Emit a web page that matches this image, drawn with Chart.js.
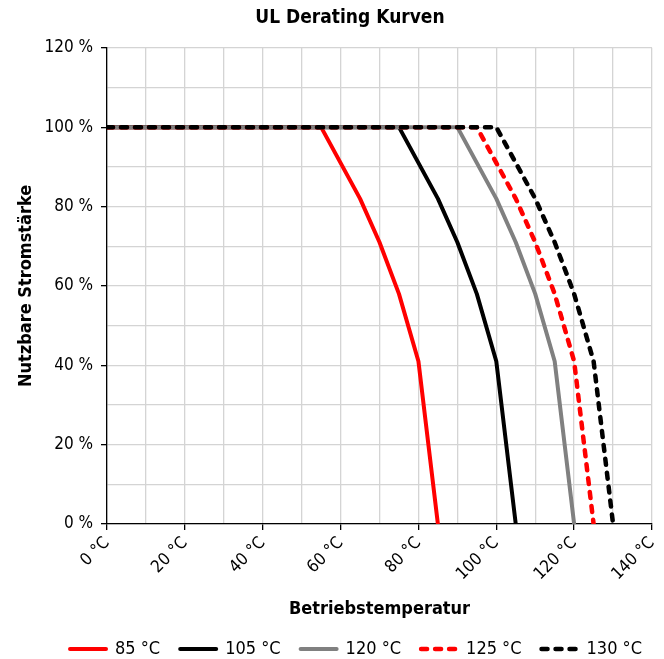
<!DOCTYPE html>
<html>
<head>
<meta charset="utf-8">
<script src="https://cdn.jsdelivr.net/npm/chart.js@4.4.1/dist/chart.umd.min.js"></script>
<style>
  html, body { margin: 0; padding: 0; background: #fff; }
  #wrap { width: 664px; height: 659px; }
</style>
</head>
<body>
<div id="wrap"><canvas id="derating"></canvas></div>
<script>
// Derating data: usable current (%) over operating temperature (°C)
const current = [100, 100, 91, 82, 71, 58, 41, 0];
const temps85 = [0, 55, 60, 65, 70, 75, 80, 85];
const temps105 = [0, 75, 80, 85, 90, 95, 100, 105];
const temps120 = [0, 90, 95, 100, 105, 110, 115, 120];
const temps125 = [0, 95, 100, 105, 110, 115, 120, 125];
const temps130 = [0, 100, 105, 110, 115, 120, 125, 130];
const seriesNames = ['85 °C', '105 °C', '120 °C', '125 °C', '130 °C'];
const xTicks = [0, 20, 40, 60, 80, 100, 120, 140];
const yTicks = [0, 20, 40, 60, 80, 100, 120];

const FONT = '"DejaVu Sans Condensed", "Liberation Sans Narrow", "Liberation Sans", sans-serif';

function pts(xs) {
    return xs.map((x, i) => ({ x: x, y: current[i] }));
}

function line(label, xs, color, dashed) {
    return {
        label: label,
        data: pts(xs),
        borderColor: color,
        backgroundColor: color,
        borderWidth: dashed ? 4.5 : 4,
        borderDash: dashed ? [6, 8] : [],
        borderCapStyle: 'round',
        borderJoinStyle: 'round',
        pointRadius: 0,
        tension: 0,
        fill: false
    };
}

// listed back to front so the 130 °C curve ends up on top
const datasets = [
    line(seriesNames[4], temps130, '#000000', true),
    line(seriesNames[3], temps125, '#ff0000', true),
    line(seriesNames[2], temps120, '#808080', false),
    line(seriesNames[1], temps105, '#000000', false),
    line(seriesNames[0], temps85, '#ff0000', false)
];

const minorTick = (ctx) => (ctx.tick && ctx.tick.value % 20 === 0) ? '#000000' : 'rgba(0,0,0,0)';

// title and legend in the original sit a bit right of centre
const boxShift = {
    id: 'boxShift',
    afterLayout: (chart) => {
        chart.legend.left += 22;
        chart.legend.right += 22;
        chart.titleBlock.left += 16;
        chart.titleBlock.right += 16;
    }
};

new Chart(document.getElementById('derating').getContext('2d'), {
    type: 'line',
    data: { datasets: datasets },
    plugins: [boxShift],
    options: {
        responsive: true,
        maintainAspectRatio: false,
        animation: false,
        layout: { padding: { left: 16, right: 12, top: 5, bottom: -9 } },
        plugins: {
            title: {
                display: true,
                text: 'UL Derating Kurven',
                color: '#000',
                font: { family: FONT, size: 19, weight: 'bold' },
                padding: { top: 2, bottom: 18 }
            },
            legend: {
                position: 'bottom',
                reverse: true,
                labels: {
                    color: '#000',
                    font: { family: FONT, size: 18 },
                    usePointStyle: true,
                    pointStyle: 'line',
                    pointStyleWidth: 36,
                    boxHeight: 18,
                    padding: 20,
                    // point-style legend items lose the dash, so copy it back from the dataset
                    generateLabels: (chart) => {
                        const items = Chart.defaults.plugins.legend.labels.generateLabels(chart);
                        items.forEach((it) => {
                            const ds = chart.data.datasets[it.datasetIndex];
                            it.strokeStyle = ds.borderColor;
                            it.lineWidth = ds.borderWidth;
                            it.lineDash = ds.borderDash;
                            it.lineCap = 'round';
                            it.pointStyle = 'line';
                        });
                        return items;
                    }
                }
            },
            tooltip: { enabled: false }
        },
        scales: {
            x: {
                type: 'linear',
                min: 0,
                max: 140,
                ticks: {
                    stepSize: 10,
                    autoSkip: false,
                    minRotation: 45,
                    maxRotation: 45,
                    color: '#000',
                    font: { family: FONT, size: 17 },
                    callback: (v) => xTicks.includes(v) ? v + ' °C' : ''
                },
                grid: {
                    color: '#d4d4d4',
                    lineWidth: 1.3,
                    tickLength: 6,
                    tickColor: minorTick
                },
                border: { color: '#000', width: 1.3 },
                title: {
                    display: true,
                    text: 'Betriebstemperatur',
                    color: '#000',
                    font: { family: FONT, size: 18, weight: 'bold' },
                    padding: { top: 8, bottom: 0 }
                },
                afterFit: (scale) => {
                    scale.height = 96;
                    scale.paddingRight = 0;
                }
            },
            y: {
                min: 0,
                max: 120,
                ticks: {
                    stepSize: 10,
                    autoSkip: false,
                    color: '#000',
                    font: { family: FONT, size: 17 },
                    padding: 8,
                    callback: (v) => yTicks.includes(v) ? v + ' %' : ''
                },
                grid: {
                    color: '#d4d4d4',
                    lineWidth: 1.3,
                    tickLength: 6,
                    tickColor: minorTick
                },
                border: { color: '#000', width: 1.3 },
                title: {
                    display: true,
                    text: 'Nutzbare Stromstärke',
                    color: '#000',
                    font: { family: FONT, size: 18, weight: 'bold' },
                    padding: { top: 0, bottom: 8 }
                },
                afterFit: (scale) => { scale.width = 91; }
            }
        }
    }
});
</script>
</body>
</html>
